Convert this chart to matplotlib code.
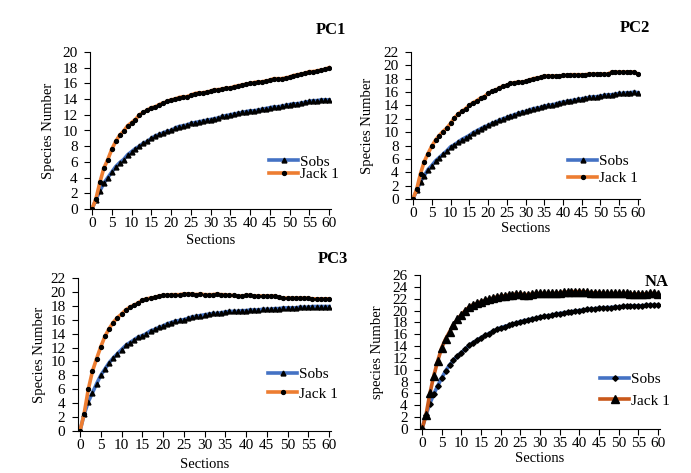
import matplotlib
matplotlib.use("Agg")
import matplotlib.pyplot as plt

# ── data ──
sections = list(range(61))

pc1_sobs = [0, 1.2, 2.3, 3.3, 4.0, 4.7, 5.4, 5.9, 6.3, 6.9, 7.3, 7.7, 8.0, 8.4, 8.6, 9.0,
            9.3, 9.5, 9.7, 9.9, 10.0, 10.3, 10.5, 10.6, 10.7, 10.9, 11.0, 11.1, 11.2, 11.3,
            11.4, 11.5, 11.6, 11.8, 11.9, 12.0, 12.1, 12.2, 12.3, 12.4, 12.5, 12.5, 12.6,
            12.7, 12.8, 12.9, 13.0, 13.0, 13.1, 13.2, 13.3, 13.4, 13.4, 13.5, 13.6, 13.7,
            13.8, 13.8, 13.9, 13.9, 13.9]
pc1_jack = [0, 1.3, 3.4, 5.2, 6.3, 7.6, 8.6, 9.4, 9.9, 10.6, 11.0, 11.4, 12.0, 12.3, 12.6,
            12.9, 13.0, 13.3, 13.5, 13.7, 13.9, 14.0, 14.2, 14.3, 14.3, 14.5, 14.7, 14.8,
            14.8, 14.9, 15.0, 15.2, 15.2, 15.3, 15.4, 15.4, 15.6, 15.7, 15.8, 15.9, 16.0,
            16.1, 16.2, 16.2, 16.3, 16.4, 16.6, 16.6, 16.6, 16.7, 16.8, 17.0, 17.1, 17.2,
            17.3, 17.5, 17.5, 17.6, 17.7, 17.8, 18.0]

pc2_sobs = [0, 1.3, 2.6, 3.5, 4.4, 5.0, 5.7, 6.2, 6.7, 7.2, 7.8, 8.1, 8.5, 8.9, 9.2, 9.5,
            9.9, 10.2, 10.5, 10.8, 11.0, 11.3, 11.5, 11.8, 12.0, 12.2, 12.4, 12.6, 12.8,
            13.0, 13.1, 13.3, 13.5, 13.6, 13.7, 13.9, 14.0, 14.1, 14.2, 14.4, 14.5, 14.6,
            14.7, 14.8, 14.9, 15.0, 15.1, 15.2, 15.3, 15.3, 15.4, 15.5, 15.6, 15.6, 15.7,
            15.8, 15.8, 15.9, 15.9, 16.0, 15.9]
pc2_jack = [0, 1.5, 3.8, 5.6, 6.8, 7.9, 8.8, 9.5, 10.1, 10.6, 11.3, 12.1, 12.7, 13.1, 13.5,
            14.0, 14.4, 14.7, 15.1, 15.3, 15.8, 16.1, 16.3, 16.6, 16.9, 17.0, 17.3, 17.4,
            17.5, 17.5, 17.6, 17.8, 18.0, 18.1, 18.2, 18.4, 18.4, 18.4, 18.4, 18.4, 18.5,
            18.5, 18.6, 18.6, 18.6, 18.6, 18.6, 18.7, 18.7, 18.7, 18.7, 18.7, 18.7, 19.0,
            19.0, 19.0, 19.0, 19.0, 19.0, 19.0, 18.7]

pc3_sobs = [0, 2.4, 4.2, 5.5, 6.8, 8.0, 8.9, 9.8, 10.5, 11.1, 11.7, 12.3, 12.7, 13.1, 13.5,
            13.7, 14.0, 14.4, 14.6, 14.9, 15.1, 15.4, 15.6, 15.8, 15.9, 16.0, 16.2, 16.4,
            16.5, 16.6, 16.7, 16.8, 16.9, 16.9, 17.0, 17.1, 17.2, 17.2, 17.2, 17.3, 17.3,
            17.4, 17.4, 17.4, 17.5, 17.5, 17.5, 17.6, 17.6, 17.7, 17.7, 17.7, 17.7, 17.8,
            17.8, 17.8, 17.9, 17.9, 17.9, 17.9, 17.9]
pc3_jack = [0, 2.5, 6.0, 8.6, 10.4, 12.1, 13.6, 14.7, 15.6, 16.3, 16.8, 17.4, 17.8, 18.1,
            18.4, 18.8, 19.0, 19.1, 19.2, 19.4, 19.5, 19.5, 19.6, 19.6, 19.6, 19.7, 19.7,
            19.7, 19.6, 19.7, 19.6, 19.6, 19.6, 19.7, 19.6, 19.6, 19.5, 19.5, 19.4, 19.4,
            19.5, 19.5, 19.4, 19.4, 19.4, 19.4, 19.4, 19.4, 19.2, 19.1, 19.1, 19.1, 19.1,
            19.1, 19.1, 19.1, 19.0, 19.0, 19.0, 19.0, 19.0]

na_sobs = [0, 2.3, 4.3, 5.9, 7.3, 8.6, 9.8, 10.8, 11.6, 12.3, 12.9, 13.5, 14.1, 14.6, 15.0,
           15.4, 15.8, 16.1, 16.5, 16.8, 17.1, 17.3, 17.5, 17.7, 17.9, 18.1, 18.3, 18.4,
           18.6, 18.7, 18.9, 19.0, 19.1, 19.2, 19.4, 19.5, 19.6, 19.7, 19.8, 19.9, 20.0,
           20.1, 20.2, 20.2, 20.3, 20.4, 20.4, 20.5, 20.5, 20.6, 20.6, 20.7, 20.7, 20.7,
           20.8, 20.8, 20.8, 20.9, 20.9, 20.9, 20.9]
na_jack = [0, 2.3, 6.0, 9.0, 11.5, 13.7, 15.2, 16.4, 17.6, 18.5, 19.3, 20.0, 20.6, 21.0,
           21.2, 21.5, 21.7, 21.9, 22.1, 22.3, 22.4, 22.5, 22.6, 22.7, 22.8, 22.8, 22.7,
           22.7, 22.8, 22.9, 22.9, 22.9, 22.9, 22.9, 22.9, 23.0, 23.1, 23.1, 23.2, 23.2,
           23.2, 23.2, 23.1, 23.0, 23.0, 23.0, 22.9, 22.9, 22.9, 22.9, 22.9, 22.9, 22.9,
           22.8, 22.8, 22.8, 22.8, 22.8, 22.9, 22.9, 22.8]

xticks = list(range(0, 61, 5))

BLUE = "#4472C4"
ORANGE = "#ED7D31"
DARK_ORANGE = "#C9581A"

W, H = 691, 473
plt.rcParams["font.family"] = ["Liberation Serif", "DejaVu Serif"]

fig = plt.figure(figsize=(W / 100, H / 100), dpi=100)


def make_axes(x0, x60, top, bottom):
    """Axes placed from pixel positions of category 0 and 60."""
    unit = (x60 - x0) / 60.0
    left = x0 - 0.5 * unit
    right = x60 + 0.5 * unit
    ax = fig.add_axes([left / W, 1 - bottom / H, (right - left) / W, (bottom - top) / H])
    ax.set_xlim(-0.5, 60.5)
    ax.set_xticks(xticks)
    for s in ("top", "right"):
        ax.spines[s].set_visible(False)
    ax.tick_params(labelsize=11, direction="out", length=4, width=0.8, pad=2)
    ax.tick_params(axis="y", pad=5)
    return ax


def finish(ax, ymax, ylabel, ylab_x, xlab_y, leg_xy, spacing):
    ax.set_ylim(0, ymax)
    ax.set_yticks(range(0, ymax + 1, 2))
    ax.set_ylabel(ylabel, fontsize=10.5, va="center")
    ax.set_xlabel("Sections", fontsize=10.5, va="center")
    pos = ax.get_position()
    ax.yaxis.set_label_coords((ylab_x / W - pos.x0) / pos.width, 0.5)
    ax.xaxis.set_label_coords(0.5, ((1 - xlab_y / H) - pos.y0) / pos.height)
    ax.legend(loc="center left", bbox_to_anchor=(leg_xy[0] / W, 1 - leg_xy[1] / H),
              bbox_transform=fig.transFigure, frameon=False, fontsize=11,
              borderpad=0, borderaxespad=0, handlelength=1.9, handletextpad=0.1,
              labelspacing=spacing, numpoints=1)


line_kw = dict(lw=2.6, markerfacecolor="black", markeredgecolor="black")

# PC1
ax1 = make_axes(92, 329, 52, 209)
ax1.plot(sections, pc1_sobs, color=BLUE, marker="^", ms=3.5, label="Sobs", **line_kw)
ax1.plot(sections, pc1_jack, color=ORANGE, marker="o", ms=2.8, label="Jack 1", **line_kw)
finish(ax1, 20, "Species Number", 48, 240, (269, 168), -0.1)
fig.text(331 / W, 1 - 30 / H, "PC1", fontsize=12, fontweight="bold", ha="center", va="center")

# PC2
ax2 = make_axes(413, 638, 52, 199)
ax2.plot(sections, pc2_sobs, color=BLUE, marker="^", ms=3.5, label="Sobs", **line_kw)
ax2.plot(sections, pc2_jack, color=ORANGE, marker="o", ms=2.8, label="Jack 1", **line_kw)
finish(ax2, 22, "Species Number", 367, 229, (568, 170), 0.2)
fig.text(635 / W, 1 - 28 / H, "PC2", fontsize=12, fontweight="bold", ha="center", va="center")

# PC3
ax3 = make_axes(80, 329, 278, 431)
ax3.plot(sections, pc3_sobs, color=BLUE, marker="^", ms=3.5, label="Sobs", **line_kw)
ax3.plot(sections, pc3_jack, color=ORANGE, marker="o", ms=2.8, label="Jack 1", **line_kw)
finish(ax3, 22, "Species Number", 40, 464, (268, 384), 0.4)
fig.text(333 / W, 1 - 259 / H, "PC3", fontsize=12, fontweight="bold", ha="center", va="center")

# NA
ax4 = make_axes(422, 658, 275, 429)
ax4.plot(sections, na_sobs, color=BLUE, marker="D", ms=2.8, label="Sobs", **line_kw)
ax4.plot(sections, na_jack, color=DARK_ORANGE, marker="^", ms=6, label="Jack 1", **line_kw)
finish(ax4, 26, "species Number", 378, 458, (600, 390), 0.5)
fig.text(657 / W, 1 - 282 / H, "NA", fontsize=12, fontweight="bold", ha="center", va="center")

fig.savefig("out.png", dpi=100)
